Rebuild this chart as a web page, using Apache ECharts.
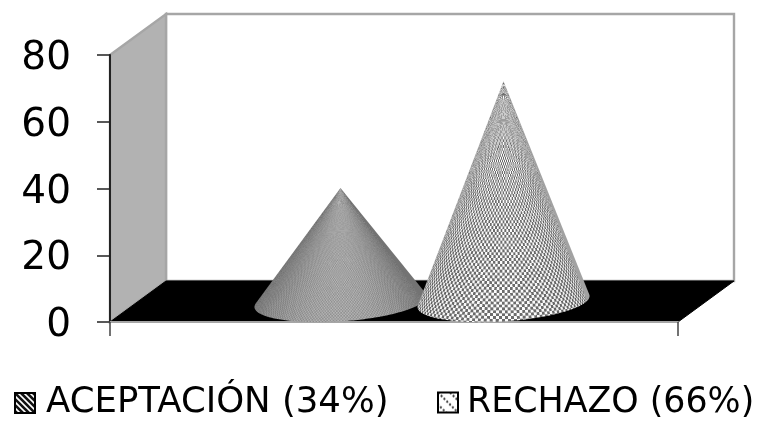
<!DOCTYPE html>
<html>
<head>
<meta charset="utf-8">
<style>html,body{margin:0;padding:0;background:#fff}#c{width:759px;height:421px}</style>
<script src="https://cdn.jsdelivr.net/npm/echarts@6/dist/echarts.min.js"></script>
</head>
<body>
<div id="c"></div>
<script>
// Chart content
const categories = [''];
const seriesNames = ['ACEPTACIÓN (34%)', 'RECHAZO (66%)'];
const seriesValues = [34, 66];
const yTicks = { min: 0, max: 80, interval: 20 };

// Oblique projection of the chart box
const DEPTH = { x: 56, y: -41 };
const WALL_LINE = '#a6a6a6';
const FONT = '"DejaVu Sans", Verdana, sans-serif';

// Cone footprint relative to the category band
const CONE_OFFSET = [-0.1435, 0.1435];
const RADIUS_MAJOR = 0.1518;
const RADIUS_MINOR = 0.035;
const TILT = -3.85 * Math.PI / 180;

// Surface looks: cell size in radians / pixels, tones for light and dark cells
const SURFACES = [
  { cellAngle: 0.0155, cellRow: 1.55, hi: 180, lo: 146, shade: 48 },
  { cellAngle: 0.0325, cellRow: 2.9, hi: 252, lo: 108, shade: 18 }
];

const textures = {};
function coneTexture(idx, w, h, apex, base, a) {
  const key = idx + ':' + apex.join() + ':' + base.join();
  if (textures[key]) return textures[key];
  const cv = document.createElement('canvas');
  cv.width = w; cv.height = h;
  const ctx = cv.getContext('2d');
  const img = ctx.createImageData(w, h);
  const s = SURFACES[idx];
  const SS = 3;
  const sampleTone = (x, y) => {
    const t = Math.max(0.004, (y - apex[1]) / (base[1] - apex[1]));
    const u = Math.max(-1, Math.min(1, ((x - apex[0]) - (base[0] - apex[0]) * t) / (a * t)));
    // the rim of the surface blends into a flat tone
    if (Math.abs(u) > 0.97) return (s.hi + s.lo) / 2 - s.shade;
    const ang = Math.asin(u);
    const dist = y - apex[1] + 14 * t * (1 - Math.cos(ang));
    const i = Math.floor((ang + 2) / s.cellAngle);
    const j = Math.floor(dist / s.cellRow);
    const on = (i + j) % 2 === 0;
    return (on ? s.hi : s.lo) - s.shade * u * u;
  };
  const x0 = Math.floor(apex[0] - a - 5), x1 = Math.ceil(apex[0] + a + 5);
  const y0 = Math.floor(apex[1] - 2), y1 = Math.ceil(base[1] + 30);
  for (let y = y0; y < y1 && y < h; y++) {
    for (let x = x0; x < x1 && x < w; x++) {
      let sum = 0;
      for (let m = 0; m < SS; m++) for (let n = 0; n < SS; n++) {
        sum += sampleTone(x + (m + 0.5) / SS, y + (n + 0.5) / SS);
      }
      const v = sum / (SS * SS);
      const p = (y * w + x) * 4;
      img.data[p] = img.data[p + 1] = img.data[p + 2] = v;
      img.data[p + 3] = 255;
    }
  }
  ctx.putImageData(img, 0, 0);
  return (textures[key] = cv);
}

// Outline of a cone: apex plus the part of the base ellipse that faces the viewer
function coneOutline(apex, c, a, b) {
  const pts = [];
  const N = 240;
  for (let k = 0; k < N; k++) {
    const th = k / N * Math.PI * 2;
    const ex = a * Math.cos(th), ey = b * Math.sin(th);
    pts.push([c[0] + ex * Math.cos(TILT) - ey * Math.sin(TILT),
              c[1] + ex * Math.sin(TILT) + ey * Math.cos(TILT)]);
  }
  const angleTo = p => Math.atan2(p[0] - apex[0], p[1] - apex[1]);
  let iLeft = 0, iRight = 0;
  pts.forEach((p, k) => {
    if (angleTo(p) > angleTo(pts[iRight])) iRight = k;
    if (angleTo(p) < angleTo(pts[iLeft])) iLeft = k;
  });
  const out = [apex];
  for (let k = iRight; ; k = (k + 1) % N) {
    out.push(pts[k]);
    if (k === iLeft) break;
  }
  return out;
}

function renderBox(params, api) {
  const r = params.coordSys;
  const L = r.x, T = r.y, R = r.x + r.width, B = r.y + r.height;
  const dx = DEPTH.x, dy = DEPTH.y;
  return {
    type: 'group',
    children: [
      { type: 'polygon', shape: { points: [[L + dx, T + dy], [R + dx, T + dy], [R + dx, B + dy], [L + dx, B + dy]] },
        style: { fill: '#fff', stroke: WALL_LINE, lineWidth: 2.4 } },
      { type: 'polygon', shape: { points: [[L, T], [L + dx, T + dy], [L + dx, B + dy], [L, B]] },
        style: { fill: '#b2b2b2', stroke: WALL_LINE, lineWidth: 2.4 } },
      { type: 'polygon', shape: { points: [[L, B], [L + dx, B + dy], [R + dx, B + dy], [R, B]] },
        style: { fill: '#000', stroke: '#000', lineWidth: 1 } }
    ]
  };
}

function coneRenderer(idx) {
  return function (params, api) {
    const band = api.size([1, 0])[0];
    const top = api.coord([0, api.value(1)]);
    const foot = api.coord([0, 0]);
    const sx = band * CONE_OFFSET[idx] + DEPTH.x / 2;
    const sy = DEPTH.y / 2;
    const apex = [top[0] + sx, top[1] + sy];
    const base = [foot[0] + sx, foot[1] + sy];
    const a = band * RADIUS_MAJOR, b = band * RADIUS_MINOR;
    const tex = coneTexture(idx, api.getWidth(), api.getHeight(), apex, base, a);
    return {
      type: 'polygon',
      shape: { points: coneOutline(apex, base, a, b) },
      style: { fill: { image: tex, repeat: 'no-repeat' } }
    };
  };
}

// Small swatch tiles for the legend keys
function swatch(draw) {
  const cv = document.createElement('canvas');
  cv.width = cv.height = 24;
  const ctx = cv.getContext('2d');
  ctx.fillStyle = '#fff';
  ctx.fillRect(0, 0, 24, 24);
  draw(ctx);
  return { image: cv, repeat: 'repeat' };
}
const swatches = [
  swatch(ctx => {
    ctx.strokeStyle = '#111'; ctx.lineWidth = 2.6;
    for (let k = -24; k < 48; k += 6) {
      ctx.beginPath(); ctx.moveTo(k, 0); ctx.lineTo(k + 24, 24); ctx.stroke();
    }
  }),
  swatch(ctx => {
    ctx.strokeStyle = '#333'; ctx.lineWidth = 2; ctx.setLineDash([2, 2]);
    for (let k = -24; k < 48; k += 12) {
      ctx.beginPath(); ctx.moveTo(k, 0); ctx.lineTo(k + 24, 24); ctx.stroke();
    }
  })
];

const legendFontSizes = [35.5, 34.8];
const legendLefts = [14, 437];

const chart = echarts.init(document.getElementById('c'), null, { renderer: 'canvas' });
chart.setOption({
  animation: false,
  backgroundColor: '#fff',
  grid: { left: 110, top: 55, width: 568, height: 267 },
  legend: seriesNames.map((name, i) => ({
    top: 385, left: legendLefts[i], itemWidth: 20, itemHeight: 20, padding: 0,
    textStyle: { fontFamily: FONT, fontSize: legendFontSizes[i], color: '#000', padding: [0, 0, 0, i ? 4 : 6] },
    data: [{ name, icon: 'rect', itemStyle: { color: swatches[i], borderColor: '#000', borderWidth: 2 } }]
  })),
  xAxis: {
    type: 'category', data: categories, z: 5,
    axisLine: { lineStyle: { color: WALL_LINE, width: 2 } },
    axisTick: { show: true, length: 14, lineStyle: { color: '#444', width: 1.5 } },
    axisLabel: { show: false }, splitLine: { show: false }
  },
  yAxis: {
    type: 'value', min: yTicks.min, max: yTicks.max, interval: yTicks.interval, z: 5,
    axisLine: { show: true, lineStyle: { color: '#222', width: 2 } },
    axisTick: { show: true, length: 13, lineStyle: { color: '#222', width: 1.5 } },
    axisLabel: {
      margin: 39,
      formatter: '{n|{value}}',
      rich: { n: { fontFamily: FONT, fontSize: 39, color: '#000', padding: [8, 0, 0, 0] } }
    },
    splitLine: { show: false }
  },
  series: [
    { type: 'custom', name: 'box', z: 1, silent: true, renderItem: renderBox, data: [[0, 0]], legendHoverLink: false }
  ].concat(seriesNames.map((name, i) => ({
    type: 'custom', name, z: 10 + i, renderItem: coneRenderer(i),
    encode: { x: 0, y: 1 }, data: [[0, seriesValues[i]]], clip: false
  })))
});
</script>
</body>
</html>
